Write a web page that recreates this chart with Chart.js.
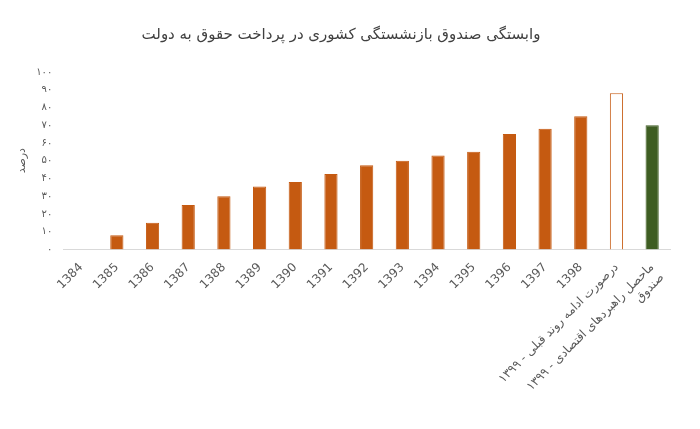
<!DOCTYPE html>
<html>
<head>
<meta charset="utf-8">
<script src="https://cdn.jsdelivr.net/npm/chart.js@4"></script>
<style>
html,body{margin:0;padding:0;background:#fff;}
#wrap{width:700px;height:429px;}
</style>
</head>
<body>
<div id="wrap"><canvas id="c" width="700" height="429"></canvas></div>
<script>
const categories = ['1384','1385','1386','1387','1388','1389','1390','1391','1392','1393','1394','1395','1396','1397','1398',
	'۱۳۹۹ - درصورت ادامه روند قبلی', ['۱۳۹۹ - ماحصل راهبردهای اقتصادی', 'صندوق']];
const values = [0, 8, 15, 25, 30, 35.5, 38, 42.5, 47.5, 50, 53, 55, 65, 68, 75, 88, 70];
const fills = ['#c55a11','#c55a11','#c55a11','#c55a11','#c55a11','#c55a11','#c55a11','#c55a11','#c55a11','#c55a11','#c55a11','#c55a11','#c55a11','#c55a11','#c55a11','#ffffff','#3e5d22'];
const borders = ['#c55a11','#c55a11','#c55a11','#c55a11','#c55a11','#c55a11','#c55a11','#c55a11','#c55a11','#c55a11','#c55a11','#c55a11','#c55a11','#c55a11','#c55a11','#c55a11','#3e5d22'];
const yTicks = ['۰','۱۰','۲۰','۳۰','۴۰','۵۰','۶۰','۷۰','۸۰','۹۰','۱۰۰'];

new Chart(document.getElementById('c'), {
	type: 'bar',
	data: {
		labels: categories,
		datasets: [{
			data: values,
			backgroundColor: fills,
			borderColor: borders,
			borderWidth: 1,
			categoryPercentage: 0.74,
			barPercentage: 0.5
		}]
	},
	options: {
		responsive: false,
		animation: false,
		layout: {padding: {left: 12, right: 30, top: 10, bottom: 22}},
		plugins: {
			legend: {display: false},
			tooltip: {enabled: false},
			title: {
				display: true,
				text: 'وابستگی صندوق بازنشستگی کشوری در پرداخت حقوق به دولت',
				color: '#404040',
				font: {family: 'DejaVu Sans', size: 15, weight: 'normal'},
				padding: {top: 16, bottom: 28}
			}
		},
		scales: {
			x: {
				grid: {display: false},
				border: {color: '#d9d9d9'},
				ticks: {
					color: '#595959',
					font: {family: 'DejaVu Sans', size: 12},
					maxRotation: 45, minRotation: 45,
					autoSkip: false
				}
			},
			y: {
				min: 0, max: 100,
				grid: {display: false},
				border: {display: false},
				title: {display: true, text: 'درصد', color: '#595959', font: {family: 'DejaVu Sans', size: 11}},
				ticks: {
					stepSize: 10,
					color: '#595959',
					font: {family: 'DejaVu Sans', size: 10},
					callback: (v, i) => yTicks[i]
				}
			}
		}
	}
});
</script>
</body>
</html>
